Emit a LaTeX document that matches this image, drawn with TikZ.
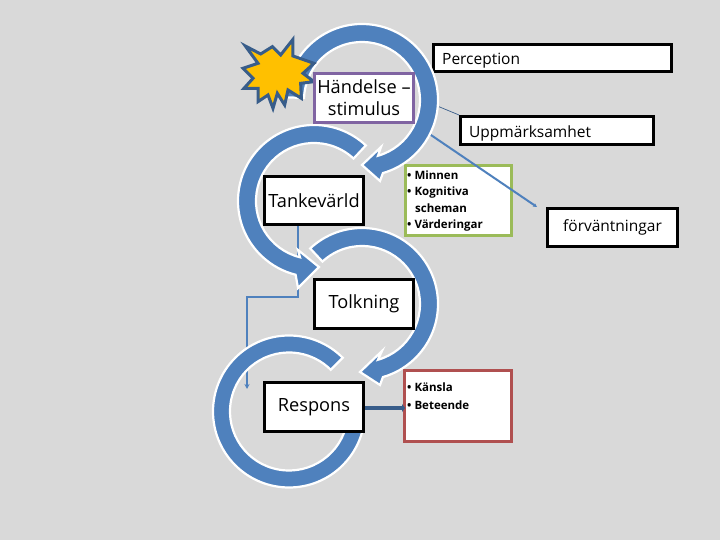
\documentclass[tikz,border=0pt]{standalone}
\usepackage{fontspec}
\setmainfont{Open Sans}
\usetikzlibrary{arrows.meta}
\definecolor{bg}{RGB}{217,217,217}
\definecolor{ringblue}{RGB}{79,129,189}
\definecolor{darkblue}{RGB}{56,93,138}
\definecolor{purplebox}{RGB}{128,100,162}
\definecolor{greenbox}{RGB}{155,187,89}
\definecolor{redbox}{RGB}{176,80,80}
\definecolor{staryellow}{RGB}{255,192,0}
\tikzset{
  ringband/.style={fill=ringblue,draw=white,line width=2.2pt,line join=miter},
  blackbox/.style={draw=black,fill=white,line width=3pt,inner sep=0pt,align=center,font=\fontsize{18.2}{22}\selectfont},
  colorbox/.style={fill=white,line width=3pt,inner sep=0pt},
  wordbox/.style={draw=black,fill=white,line width=3pt,inner sep=0pt,font=\fontsize{15.5}{18}\selectfont},
  wordtext/.style={inner sep=0pt,anchor=west,font=\fontsize{15.5}{18}\selectfont},
  smalltext/.style={inner sep=0pt,anchor=west,font=\fontsize{11.5}{15}\selectfont\bfseries},
  thinline/.style={draw=ringblue,line width=1.2pt},
}
% #1 centre x, #2 centre y, #3 outer r, #4 inner r, #5 start angle, #6 end angle, #7 head path
\newcommand{\ringshape}[7]{%
  \path[ringband] ([shift={(#1,#2)}]#5:#3) arc[start angle=#5,end angle=#6,radius=#3]
    #7 -- ([shift={(#1,#2)}]#6:#4) arc[start angle=#6,end angle=#5,radius=#4] -- cycle;}
\begin{document}
\begin{tikzpicture}[x=1pt,y=1pt]
\fill[bg] (0,0) rectangle (720,540);
\useasboundingbox (0,0) rectangle (720,540);

% boxes behind the rings
\node[wordbox,minimum width=238pt,minimum height=27pt] (perc) at (552.5,482) {};
\node[wordtext] (perctext) at (442,479.5) {Perception};
\node[wordbox,minimum width=193pt,minimum height=28pt] (upp) at (557,409.5) {};
\node[wordtext] (upptext) at (469,407) {Uppmärksamhet};
\node[wordbox,minimum width=130pt,minimum height=38pt] (forv) at (612.5,312.5) {\raisebox{-2.5pt}{förväntningar}};

\node[colorbox,draw=greenbox,minimum width=106pt,minimum height=70pt] (mem) at (458.5,339.5) {};
\node[colorbox,draw=redbox,minimum width=107pt,minimum height=71pt] (kans) at (458,134) {};

% thin connectors
\coordinate (uppstart) at (430,437);
\coordinate (forvstart) at (425,409);
\coordinate (forvend) at (537,333);
\coordinate (bendA) at (298,243);
\coordinate (bendB) at (247,243);
\coordinate (respend) at (247,151);
\draw[draw=darkblue,line width=0.7pt] (uppstart) -- (upp.north west);
\draw[thinline,line width=2pt,-{Stealth[length=4pt,width=4pt]}] (forvstart) -- (forvend);

\coordinate (tankdown) at (298,314);
\draw[thinline,-{Stealth[length=5pt,width=5pt]}] (tankdown) -- (bendA) -- (bendB) -- (respend);

% rings
\ringshape{289}{128.5}{76}{59}{45}{350}{}
\ringshape{362}{236}{76}{58}{133}{-74}{-- (380,155) -- (360,168) -- (382,189)}
\ringshape{314}{339}{76}{58}{47}{256}{-- (298,252) -- (319,273) -- (298,290)}
\ringshape{362}{440}{76}{58}{178}{-74}{-- (380,359) -- (362,375) -- (381,393)}

% star
\begin{scope}[shift={(238,510)},x=0.3333pt,y=-0.3333pt]
\draw[fill=staryellow,draw=darkblue,line width=3pt,line join=miter]
 (22,48) -- (68,72) -- (103,50) -- (128,75) -- (165,28) -- (165,78) -- (228,100)
 -- (195,130) -- (228,155) -- (188,160) -- (190,205) -- (150,180) -- (140,225)
 -- (118,190) -- (105,235) -- (90,195) -- (60,215) -- (60,175) -- (18,175)
 -- (45,145) -- (15,115) -- (60,100) -- cycle;
\end{scope}

% main boxes
\node[blackbox,draw=purplebox,minimum width=99pt,minimum height=49pt] (hand) at (364,442) {\raisebox{-1pt}{Händelse –}\\\raisebox{-1pt}{stimulus}};
\node[blackbox,minimum width=99pt,minimum height=48pt] (tank) at (314,339.5) {\raisebox{-4pt}{Tankevärld}};
\node[blackbox,minimum width=99pt,minimum height=49pt] (tolk) at (364,236) {\raisebox{-3pt}{Tolkning}};
\node[blackbox,minimum width=99pt,minimum height=49pt] (resp) at (314,133) {\raisebox{-3pt}{Respons}};

% labels in the coloured boxes
\node[smalltext] (t1) at (407,365) {• Minnen};
\node[smalltext] (t2) at (407,347) {• Kognitiva};
\node[smalltext] (t3) at (415,332) {scheman};
\node[smalltext] (t4) at (407,314) {• Värderingar};
\node[smalltext] (t5) at (407,153) {• Känsla};
\node[smalltext] (t6) at (407,135) {• Beteende};

% thick connector
\draw[draw=darkblue,line width=4pt,-{Stealth[length=3pt,width=8pt,inset=0pt]}] (resp.east |- kans.center) ++(0,-2) coordinate (thickstart) -- (405,132);
\end{tikzpicture}
\end{document}
